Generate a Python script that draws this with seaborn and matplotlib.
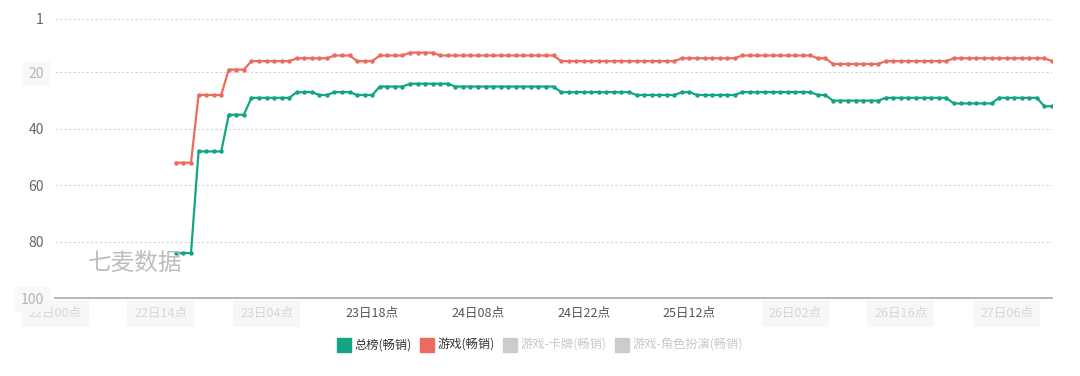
import pandas as pd
import matplotlib
matplotlib.use("Agg")
import matplotlib.pyplot as plt
from matplotlib.lines import Line2D
import seaborn as sns

# hourly ranks, first point at 22日16点
start_time = "2022-03-22 16:00"
overall = [84, 84, 84, 48, 48, 48, 48, 35, 35, 35,
           29, 29, 29, 29, 29, 29, 27, 27, 27, 28,
           28, 27, 27, 27, 28, 28, 28, 25, 25, 25,
           25, 24, 24, 24, 24, 24, 24, 25, 25, 25,
           25, 25, 25, 25, 25, 25, 25, 25, 25, 25,
           25, 27, 27, 27, 27, 27, 27, 27, 27, 27,
           27, 28, 28, 28, 28, 28, 28, 27, 27, 28,
           28, 28, 28, 28, 28, 27, 27, 27, 27, 27,
           27, 27, 27, 27, 27, 28, 28, 30, 30, 30,
           30, 30, 30, 30, 29, 29, 29, 29, 29, 29,
           29, 29, 29, 31, 31, 31, 31, 31, 31, 29,
           29, 29, 29, 29, 29, 32, 32]
games = [52, 52, 52, 28, 28, 28, 28, 19, 19, 19,
         16, 16, 16, 16, 16, 16, 15, 15, 15, 15,
         15, 14, 14, 14, 16, 16, 16, 14, 14, 14,
         14, 13, 13, 13, 13, 14, 14, 14, 14, 14,
         14, 14, 14, 14, 14, 14, 14, 14, 14, 14,
         14, 16, 16, 16, 16, 16, 16, 16, 16, 16,
         16, 16, 16, 16, 16, 16, 16, 15, 15, 15,
         15, 15, 15, 15, 15, 14, 14, 14, 14, 14,
         14, 14, 14, 14, 14, 15, 15, 17, 17, 17,
         17, 17, 17, 17, 16, 16, 16, 16, 16, 16,
         16, 16, 16, 15, 15, 15, 15, 15, 15, 15,
         15, 15, 15, 15, 15, 15, 16]

tick_times = ["2022-03-22 00:00", "2022-03-22 14:00", "2022-03-23 04:00",
              "2022-03-23 18:00", "2022-03-24 08:00", "2022-03-24 22:00",
              "2022-03-25 12:00", "2022-03-26 02:00", "2022-03-26 16:00",
              "2022-03-27 06:00"]
blurred_x = [0, 1, 2, 7, 8, 9]
y_ticks = [1, 20, 40, 60, 80, 100]
blurred_y = [1, 5]
legend_names = ["总榜(畅销)", "游戏(畅销)", "游戏-卡牌(畅销)", "游戏-角色扮演(畅销)"]
legend_colors = ["#13a583", "#ec6b5f", "#cccccc", "#cccccc"]
x_end = "2022-03-27 12:00"

times = pd.date_range(start_time, periods=len(overall), freq="h")
df = pd.concat([
    pd.DataFrame({"time": times, "rank": overall, "series": legend_names[0]}),
    pd.DataFrame({"time": times, "rank": games, "series": legend_names[1]}),
])

sns.set_style("white")
plt.rcParams["font.family"] = ["Noto Sans CJK SC", "DejaVu Sans"]

fig = plt.figure(figsize=(10.8, 3.76), dpi=100)
ax = fig.add_axes([0.051, 0.207, 0.923, 0.743])

sns.lineplot(data=df, x="time", y="rank", hue="series",
             palette=legend_colors[:2], marker="o", markersize=3.2,
             markeredgewidth=0, linewidth=1.6, legend=False, ax=ax)

ax.set_ylim(100, 1)
ax.set_xlim(pd.Timestamp(tick_times[0]), pd.Timestamp(x_end))
ax.set_yticks(y_ticks)
ax.set_yticklabels([str(v) for v in y_ticks])
ax.set_xticks([pd.Timestamp(t) for t in tick_times])
ax.set_xticklabels([pd.Timestamp(t).strftime("%d日%H点") for t in tick_times])
ax.set_xlabel("")
ax.set_ylabel("")
ax.grid(axis="y", color="#d4d4d4", linestyle=(0, (2, 2)), linewidth=0.8)
ax.grid(axis="x", visible=False)
for s in ["top", "right", "left"]:
    ax.spines[s].set_visible(False)
ax.spines["bottom"].set_color("#aaaaaa")
ax.spines["bottom"].set_linewidth(1.2)
ax.tick_params(axis="x", length=0, pad=6, labelsize=9, colors="#555555")
ax.tick_params(axis="y", length=0, pad=8, labelsize=10, colors="#666666")

for i, lab in enumerate(ax.get_xticklabels()):
    if i in blurred_x:
        lab.set_color("#d6d6d6")
        lab.set_bbox(dict(facecolor="#f7f7f7", edgecolor="none", pad=5))
for i, lab in enumerate(ax.get_yticklabels()):
    if i in blurred_y:
        lab.set_color("#b4b4b4")
        lab.set_bbox(dict(facecolor="#f8f8f8", edgecolor="none", pad=4))

ax.text(0.033, 0.125, "七麦数据", transform=ax.transAxes, fontsize=17,
        color="#bdbdbd", ha="left", va="center")

handles = [Line2D([0], [0], marker="s", color=c, linestyle="none",
                  markersize=10) for c in legend_colors]
leg = fig.legend(handles, legend_names, loc="center", ncol=4,
                 bbox_to_anchor=(0.5, 0.082), frameon=False, fontsize=8.8,
                 handletextpad=0.3, columnspacing=0.7, handlelength=1.1)
for txt, c in zip(leg.get_texts(), ["#333333", "#333333", "#c8c8c8", "#c8c8c8"]):
    txt.set_color(c)

fig.savefig("out.png", dpi=100)
